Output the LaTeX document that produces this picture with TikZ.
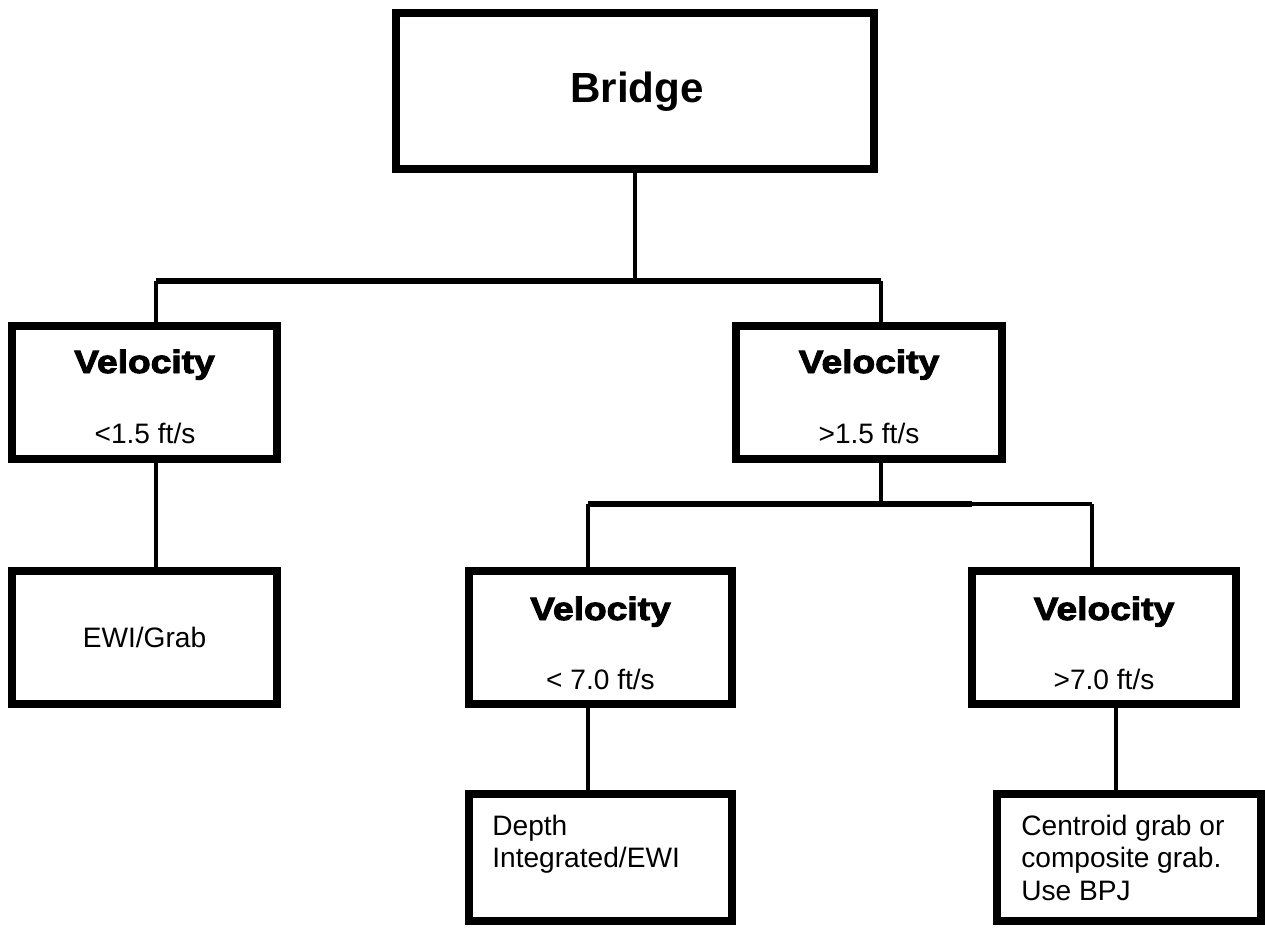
\documentclass[tikz,border=0pt]{standalone}
\usepackage{fontspec}
\setmainfont{Liberation Sans}
\newfontfamily\velfont[FakeBold=3,FakeStretch=1.15]{Liberation Sans}
\usetikzlibrary{positioning}

\tikzset{
  box/.style={draw, line width=4.3pt, inner sep=0pt},
  link/.style={line width=2.5pt},
  bar/.style={line width=3.4pt},
  head/.style={anchor=base, inner sep=0pt, font=\velfont\bfseries\fontsize{18.4}{22}\selectfont},
  val/.style={anchor=base, inner sep=0pt, font=\fontsize{16}{18.5}\selectfont},
  note/.style={anchor=north west, inner sep=0pt, align=left, font=\fontsize{16}{18.6}\selectfont},
}

\begin{document}
\begin{tikzpicture}[x=0.02cm, y=-0.02cm]
  \useasboundingbox (0,0) rectangle (1265,927);
  \clip (0,0) rectangle (1265,927);

  % boxes
  \node[box, minimum width=9.56cm, minimum height=3.12cm] (bridge) at (635,91) {};
  \node[anchor=base, inner sep=0pt, font=\bfseries\fontsize{24}{28}\selectfont] (bridge-t) at (637,102) {Bridge};

  \node[box, minimum width=5.3cm, minimum height=2.66cm] (vlow) at (144.5,392.5) {};
  \node[head] (vlow-h) at (144.5,373) {Velocity};
  \node[val] (vlow-v) at (145,443) {<1.5 ft/s};

  \node[box, minimum width=5.32cm, minimum height=2.66cm] (vhigh) at (869,392.5) {};
  \node[head] (vhigh-h) at (869,373) {Velocity};
  \node[val] (vhigh-v) at (869,443) {>1.5 ft/s};

  \node[box, minimum width=5.3cm, minimum height=2.66cm, font=\fontsize{16}{18.5}\selectfont] (ewi) at (144.5,637.5) {EWI/Grab};

  \node[box, minimum width=5.26cm, minimum height=2.66cm] (vmid) at (600.5,637.5) {};
  \node[head] (vmid-h) at (600.5,620) {Velocity};
  \node[val] (vmid-v) at (600.5,689) {< 7.0 ft/s};

  \node[box, minimum width=5.28cm, minimum height=2.66cm] (vtop) at (1104,637.5) {};
  \node[head] (vtop-h) at (1104,620) {Velocity};
  \node[val] (vtop-v) at (1104,689) {>7.0 ft/s};

  \node[box, minimum width=5.26cm, minimum height=2.54cm] (depth) at (600.5,857.5) {};
  \node[note] (depth-t) at (492,814.5) {Depth\\Integrated/EWI};

  \node[box, minimum width=5.28cm, minimum height=2.54cm] (centroid) at (1129,857.5) {};
  \node[note] (centroid-t) at (1021,814.5) {Centroid grab or\\composite grab.\\Use BPJ};

  % connectors
  \coordinate (bl) at (156,281);
  \coordinate (br) at (881,281);
  \coordinate (ml) at (588,504);
  \coordinate (mm) at (972,504);
  \coordinate (mr) at (1092,504);

  \draw[link] (bridge.south) -- (bridge.south |- bl);
  \draw[bar] (bl) -- (br);
  \draw[link] (bl) -- (bl |- vlow.north);
  \draw[link] (br) -- (br |- vhigh.north);
  \draw[link] (bl |- vlow.south) -- (bl |- ewi.north);

  \draw[link] (br |- vhigh.south) -- (br |- ml);
  \draw[bar] (ml) -- (mm);
  \draw[link] (mm) -- (mr);
  \draw[link] (ml) -- (ml |- vmid.north);
  \draw[link] (mr) -- (mr |- vtop.north);

  \draw[link] (ml |- vmid.south) -- (ml |- depth.north);
  \draw[link] ([xshift=0.24cm]vtop.south) -- ([xshift=0.24cm]vtop.south |- centroid.north);
\end{tikzpicture}
\end{document}
